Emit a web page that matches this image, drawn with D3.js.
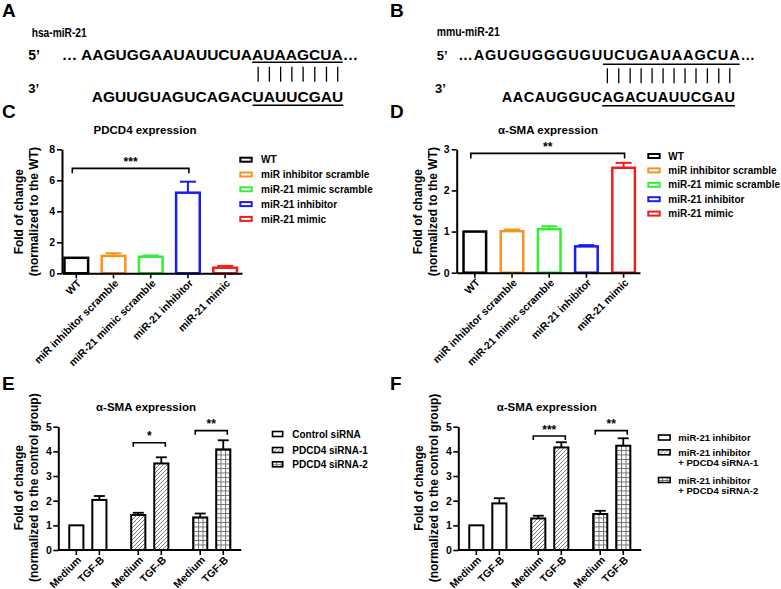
<!DOCTYPE html>
<html><head><meta charset="utf-8">
<script src="https://cdn.jsdelivr.net/npm/d3@7"></script>
<style>
body{margin:0;background:#fff}
svg{display:block}
text{font-family:"Liberation Sans",Arial,Helvetica,sans-serif;font-weight:bold;fill:#000}
</style>
</head><body>
<svg id="fig" width="781" height="589"></svg>
<script>
// ---------------- DATA ----------------
const panelLabels = ["A", "B", "C", "D", "E", "F"];
const speciesA = "hsa-miR-21";
const speciesB = "mmu-miR-21";
// [before underline, underlined, after]
const seqA5 = ["… AAGUGGAAUAUUCUA", "AUAAGCUA", "…"];
const seqA3 = ["AGUUGUAGUCAGAC", "UAUUCGAU", ""];
const seqB5 = ["…AGUGUGGGUGU", "UCUGAUAAGCUA", "…"];
const seqB3 = ["AACAUGGUC", "AGACUAUUCGAU", ""];

const cdCategories = ["WT", "miR inhibitor scramble", "miR-21 mimic scramble", "miR-21 inhibitor", "miR-21 mimic"];
const cdColors = ["#000000", "#F7941D", "#33EE33", "#1C1CF2", "#F21C1C"];
const cValues = [1.0, 1.12, 1.07, 5.2, 0.36];
const cErrors = [0, 0.17, 0.08, 0.71, 0.12];
const cTicks = [0, 2, 4, 6, 8];
const cSig = [0, 3, "***", 6.77];
const dValues = [1.0, 1.01, 1.06, 0.64, 2.55];
const dErrors = [0, 0.04, 0.07, 0.03, 0.12];
const dTicks = [0, 1, 2, 3];
const dSig = [0, 4, "**", 2.9];

const efTreatments = ["Medium", "TGF-B"];
const efTicks = [0, 1, 2, 3, 4, 5];
const efPatterns = ["none", "hatch", "grid"];
const eGroups = [["Control siRNA"], ["PDCD4 siRNA-1"], ["PDCD4 siRNA-2"]];
const fGroups = [["miR-21 inhibitor"], ["miR-21 inhibitor", "+ PDCD4 siRNA-1"], ["miR-21 inhibitor", "+ PDCD4 siRNA-2"]];
const eMedium = [1.0, 1.42, 1.32];
const eMediumErr = [0, 0.09, 0.16];
const eTGF = [2.03, 3.51, 4.08];
const eTGFErr = [0.16, 0.25, 0.37];
const fMedium = [1.0, 1.28, 1.46];
const fMediumErr = [0, 0.11, 0.13];
const fTGF = [1.89, 4.16, 4.23];
const fTGFErr = [0.21, 0.21, 0.30];
const eSig = [[1, "*", 4.35], [2, "**", 4.84]];
const fSig = [[1, "***", 4.62], [2, "**", 4.84]];

// ---------------- DRAWING ----------------
const svg = d3.select("#fig");
const defs = svg.append("defs");
const hatch = defs.append("pattern").attr("id", "hatch").attr("patternUnits", "userSpaceOnUse")
  .attr("width", 4).attr("height", 4);
hatch.append("rect").attr("width", 4).attr("height", 4).attr("fill", "#fff");
hatch.append("path").attr("d", "M-1,1 l2,-2 M0,4 l4,-4 M3,5 l2,-2")
  .attr("stroke", "#7a7a7a").attr("stroke-width", 1);
const grid = defs.append("pattern").attr("id", "grid").attr("patternUnits", "userSpaceOnUse")
  .attr("width", 4.5).attr("height", 4.5);
grid.append("rect").attr("width", 4.5).attr("height", 4.5).attr("fill", "#fff");
grid.append("path").attr("d", "M0,0.5 H4.5 M0.5,0 V4.5").attr("stroke", "#6f6f6f").attr("stroke-width", 1);
const fillFor = p => p === "hatch" ? "url(#hatch)" : p === "grid" ? "url(#grid)" : "#fff";
const intFmt = d3.format("d");

// panel letters
const letterPos = [[2, 17], [390, 17], [2, 118], [390, 118], [2, 390], [390, 390]];
svg.selectAll("text.plabel").data(panelLabels).join("text").attr("class", "plabel")
  .attr("x", (d, i) => letterPos[i][0]).attr("y", (d, i) => letterPos[i][1])
  .style("font-size", "19px").text(d => d);

// ---- sequences
function drawSeq(parts, x, y, width, fs, uy) {
  const t = svg.append("text").attr("x", x).attr("y", y).style("font-size", fs + "px")
    .attr("textLength", width).attr("lengthAdjust", "spacing");
  parts.forEach(p => t.append("tspan").text(p));
  const node = t.node();
  const i0 = parts[0].length, n = parts[1].length;
  const s = node.getStartPositionOfChar(i0).x;
  const e = node.getEndPositionOfChar(i0 + n - 1).x;
  svg.append("line").attr("x1", s).attr("x2", e).attr("y1", uy).attr("y2", uy)
    .attr("stroke", "#000").attr("stroke-width", 1.5);
  return d3.range(n).map(k => (node.getStartPositionOfChar(i0 + k).x + node.getEndPositionOfChar(i0 + k).x) / 2);
}
function pairBars(centers, y1, y2) {
  svg.append("g").selectAll("line").data(centers).join("line")
    .attr("x1", d => d).attr("x2", d => d).attr("y1", y1).attr("y2", y2)
    .attr("stroke", "#000").attr("stroke-width", 1.3);
}
function smallText(x, y, s, fs, len) {
  const t = svg.append("text").attr("x", x).attr("y", y).style("font-size", fs + "px").text(s);
  if (len) t.attr("textLength", len).attr("lengthAdjust", "spacingAndGlyphs");
  return t;
}
// Panel A
smallText(31.7, 37, speciesA, 12, 55);
smallText(28.3, 59.5, "5’", 14);
smallText(28.3, 93, "3’", 13);
drawSeq(seqA5, 61.7, 59.5, 296.6, 15.5, 62.3);
const ca = drawSeq(seqA3, 91.7, 101.7, 251.6, 15.5, 105.3);
pairBars(ca, 66.7, 81.7);
// Panel B
smallText(436.7, 36, speciesB, 12, 63);
smallText(436.7, 60, "5’", 13);
smallText(435, 93.3, "3’", 13);
drawSeq(seqB5, 458.3, 60, 296.7, 14.5, 64.3);
const cb = drawSeq(seqB3, 501.7, 101.7, 233.3, 14.5, 105.8);
pairBars(cb, 68.3, 83.3);

// ---- helpers for charts
function styleAxis(g, fs) {
  g.selectAll("path.domain").attr("stroke", "#000").attr("stroke-width", 2);
  g.selectAll(".tick line").attr("stroke", "#000").attr("stroke-width", 1.6);
  g.selectAll("text").style("font-size", fs + "px").style("font-family", null).attr("fill", "#000");
}
function yLabel(x, y, lines) {
  lines.forEach((l, i) => {
    svg.append("text").attr("transform", `translate(${x + i * 15},${y}) rotate(-90)`)
      .attr("text-anchor", "middle").style("font-size", "12px").text(l);
  });
}
function title(x, y, s) {
  svg.append("text").attr("x", x).attr("y", y).attr("text-anchor", "middle").style("font-size", "11.5px").text(s);
}
function bracket(x1, x2, yv, label, drop) {
  const g = svg.append("g");
  g.append("path").attr("d", `M${x1},${yv + drop}V${yv}H${x2}V${yv + drop}`)
    .attr("fill", "none").attr("stroke", "#000").attr("stroke-width", 1.6);
  g.append("text").attr("x", (x1 + x2) / 2).attr("y", yv - 2.5).attr("text-anchor", "middle")
    .style("font-size", "12px").text(label);
}

// ---- Panels C & D
function drawCD(cfg, values, errors, ticks, ttl, ylab, sig, leg) {
  const x = d3.scaleBand().domain(cdCategories).range([cfg.x0, cfg.x1])
    .paddingInner(cfg.pi).paddingOuter(cfg.po).align(cfg.align);
  const y = d3.scaleLinear().domain([0, ticks[ticks.length - 1]]).range([cfg.y0, cfg.y1]);
  const data = cdCategories.map((c, i) => ({c, v: values[i], e: errors[i], col: cdColors[i]}));
  const g = svg.append("g");
  g.selectAll("rect").data(data).join("rect")
    .attr("x", d => x(d.c) + 1.2).attr("width", x.bandwidth() - 2.4)
    .attr("y", d => y(d.v)).attr("height", d => cfg.y0 - y(d.v))
    .attr("fill", "#fff").attr("stroke", d => d.col).attr("stroke-width", 2.5);
  const eb = g.selectAll("g.err").data(data.filter(d => d.e > 0)).join("g").attr("class", "err");
  eb.append("line").attr("x1", d => x(d.c) + x.bandwidth() / 2).attr("x2", d => x(d.c) + x.bandwidth() / 2)
    .attr("y1", d => y(d.v)).attr("y2", d => y(d.v + d.e)).attr("stroke", d => d.col).attr("stroke-width", 2);
  eb.append("line").attr("x1", d => x(d.c) + x.bandwidth() / 2 - 8).attr("x2", d => x(d.c) + x.bandwidth() / 2 + 8)
    .attr("y1", d => y(d.v + d.e)).attr("y2", d => y(d.v + d.e)).attr("stroke", d => d.col).attr("stroke-width", 2);
  const ya = svg.append("g").attr("transform", `translate(${cfg.x0},0)`)
    .call(d3.axisLeft(y).tickValues(ticks).tickFormat(intFmt).tickSize(5).tickSizeOuter(0).tickPadding(2));
  styleAxis(ya, 10.5);
  const xa = svg.append("g").attr("transform", `translate(0,${cfg.y0})`)
    .call(d3.axisBottom(x).tickSize(5).tickSizeOuter(0));
  styleAxis(xa, 10.5);
  xa.selectAll(".tick text").attr("x", 0).attr("y", 0).attr("dy", "0.35em")
    .attr("text-anchor", "end").attr("transform", "translate(3,8) rotate(-45)");
  title(cfg.tx, cfg.ty, ttl);
  yLabel(cfg.lx, cfg.ly, ylab);
  const cx = i => x(cdCategories[i]) + x.bandwidth() / 2;
  bracket(cx(sig[0]) - 4, cx(sig[1]) + 1, y(sig[3]), sig[2], 5);
  // legend
  const lg = svg.append("g").selectAll("g").data(data).join("g")
    .attr("transform", (d, i) => `translate(${leg.x},${leg.y + i * leg.dy})`);
  lg.append("rect").attr("x", 1).attr("y", -2).attr("width", 11.4).attr("height", 4)
    .attr("fill", "#fff").attr("stroke", d => d.col).attr("stroke-width", 2);
  lg.append("text").attr("x", leg.tx).attr("y", 3.6).style("font-size", "10px").text(d => d.c);
}
drawCD({x0: 62, x1: 242, y0: 273.3, y1: 149.3, pi: 0.3, po: 0.069, align: 0.25, tx: 145, ty: 134, lx: 22.5, ly: 211.7},
  cValues, cErrors, cTicks, "PDCD4 expression", ["Fold of change", "(normalized to the WT)"], cSig,
  {x: 239.3, y: 159.7, dy: 14.8, tx: 21.7});
drawCD({x0: 456.7, x1: 640, y0: 272.7, y1: 149.3, pi: 0.328, po: 0.128, align: 0.59, tx: 548, ty: 134, lx: 422, ly: 211.7},
  dValues, dErrors, dTicks, "α-SMA expression", ["Fold of change", "(normalized to the WT)"], dSig,
  {x: 647.3, y: 156, dy: 14.4, tx: 21});

// ---- Panels E & F
function drawEF(cfg, groups, med, medErr, tgf, tgfErr, sigs, leg) {
  const gIdx = d3.range(groups.length);
  const xg = d3.scaleBand().domain(gIdx).range([cfg.x0, cfg.x0 + 183]).paddingInner(0.256).paddingOuter(0.105);
  const xs = d3.scaleBand().domain(efTreatments).range([0, xg.bandwidth()]).paddingInner(0.3).paddingOuter(0.15);
  const y = d3.scaleLinear().domain([0, 5]).range([cfg.y0, cfg.y1]);
  const data = [];
  gIdx.forEach(i => {
    data.push({g: i, t: efTreatments[0], v: med[i], e: medErr[i], p: efPatterns[i]});
    data.push({g: i, t: efTreatments[1], v: tgf[i], e: tgfErr[i], p: efPatterns[i]});
  });
  const bx = d => xg(d.g) + xs(d.t);
  const cxd = d => bx(d) + xs.bandwidth() / 2;
  const g = svg.append("g");
  g.selectAll("rect").data(data).join("rect")
    .attr("x", d => bx(d) + 1).attr("width", xs.bandwidth() - 2)
    .attr("y", d => y(d.v)).attr("height", d => cfg.y0 - y(d.v))
    .attr("fill", d => fillFor(d.p)).attr("stroke", "#000").attr("stroke-width", 2);
  const eb = g.selectAll("g.err").data(data.filter(d => d.e > 0)).join("g");
  eb.append("line").attr("x1", cxd).attr("x2", cxd).attr("y1", d => y(d.v)).attr("y2", d => y(d.v + d.e))
    .attr("stroke", "#000").attr("stroke-width", 1.8);
  eb.append("line").attr("x1", d => cxd(d) - 5.5).attr("x2", d => cxd(d) + 5.5)
    .attr("y1", d => y(d.v + d.e)).attr("y2", d => y(d.v + d.e)).attr("stroke", "#000").attr("stroke-width", 1.8);
  const ya = svg.append("g").attr("transform", `translate(${cfg.x0},0)`)
    .call(d3.axisLeft(y).tickValues(efTicks).tickFormat(intFmt).tickSize(5).tickSizeOuter(0).tickPadding(1.5));
  styleAxis(ya, 10.5);
  // x axis
  svg.append("line").attr("x1", cfg.x0).attr("x2", cfg.x0 + 183).attr("y1", cfg.y0).attr("y2", cfg.y0)
    .attr("stroke", "#000").attr("stroke-width", 2);
  const tk = svg.append("g").selectAll("g").data(data).join("g")
    .attr("transform", d => `translate(${cxd(d)},${cfg.y0})`);
  tk.append("line").attr("y2", 5).attr("stroke", "#000").attr("stroke-width", 1.6);
  tk.append("text").attr("dy", "0.35em").attr("text-anchor", "end")
    .attr("transform", "translate(3,8) rotate(-45)").style("font-size", "10.5px").text(d => d.t);
  title(cfg.tx, cfg.ty, "α-SMA expression");
  yLabel(cfg.lx, cfg.ly, ["Fold of change", "(normalized to the control group)"]);
  sigs.forEach(s => {
    const a = data.find(d => d.g === s[0] && d.t === efTreatments[0]);
    const b = data.find(d => d.g === s[0] && d.t === efTreatments[1]);
    bracket(cxd(a) - 5, cxd(b) + 4, y(s[2]), s[1], 4);
  });
  // legend
  const lg = svg.append("g").selectAll("g").data(groups).join("g")
    .attr("transform", (d, i) => `translate(${leg.x},${leg.ys[i]})`);
  lg.append("rect").attr("x", 0.8).attr("y", -2.5).attr("width", leg.w).attr("height", 5)
    .attr("fill", (d, i) => fillFor(efPatterns[i])).attr("stroke", "#000").attr("stroke-width", 1.6);
  lg.each(function (d) {
    d3.select(this).selectAll("text").data(d).join("text")
      .attr("x", leg.tx).attr("y", (t, j) => 3.6 + j * leg.lh).style("font-size", leg.fs + "px").text(t => t);
  });
}
drawEF({x0: 58.3, y0: 550, y1: 426.7, tx: 146, ty: 411, lx: 22.5, ly: 487.7},
  eGroups, eMedium, eMediumErr, eTGF, eTGFErr, eSig, {x: 271.7, ys: [434, 450, 464.3], w: 10.2, tx: 20.6, fs: 10, lh: 10});
drawEF({x0: 458.3, y0: 550, y1: 426.7, tx: 546.7, ty: 411, lx: 422.5, ly: 488},
  fGroups, fMedium, fMediumErr, fTGF, fTGFErr, fSig, {x: 657.7, ys: [437.5, 452.3, 480], w: 11.6, tx: 20.6, fs: 9.5, lh: 10.2});
</script>
</body></html>
